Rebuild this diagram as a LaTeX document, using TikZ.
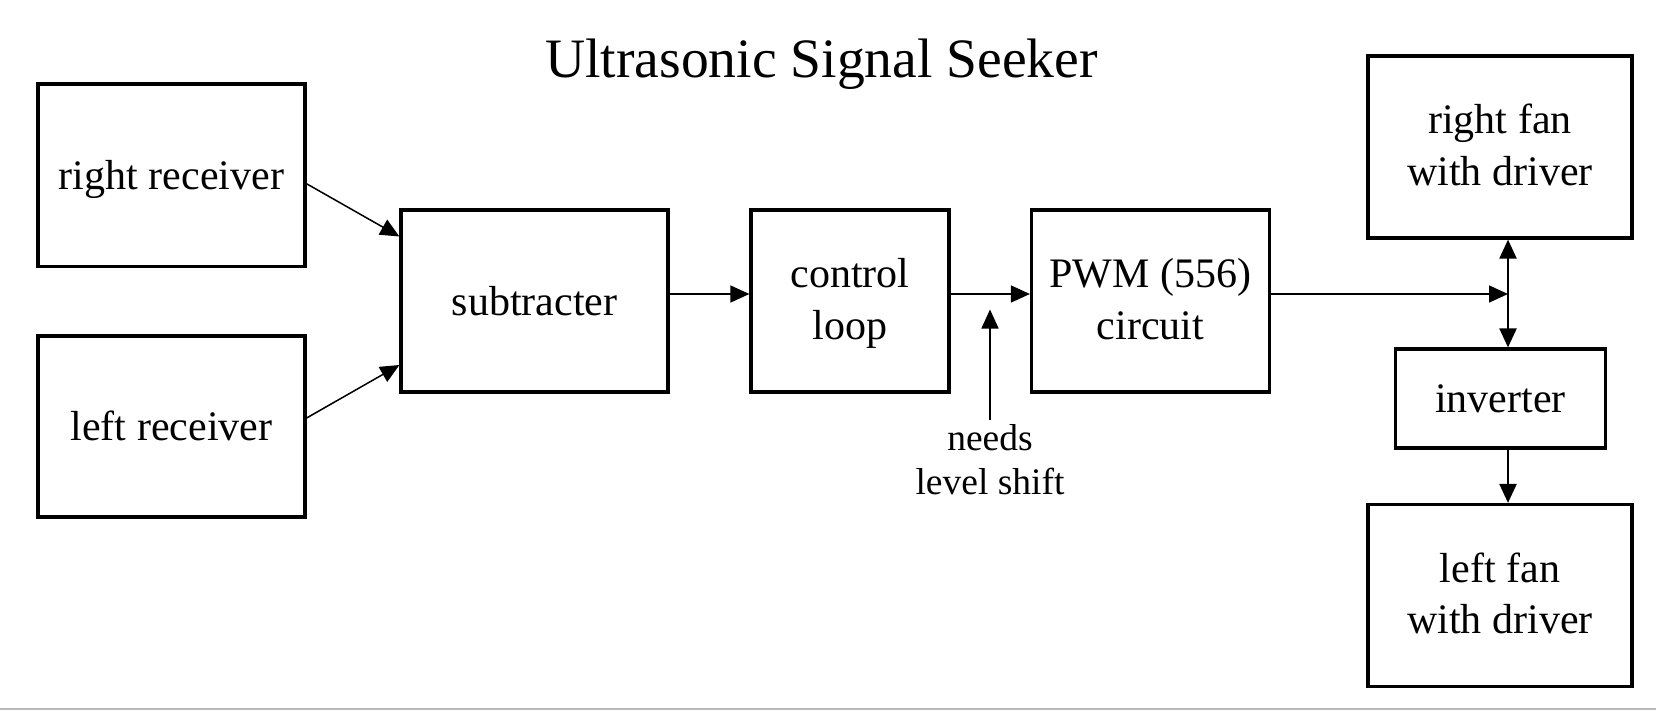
\documentclass[tikz,border=0pt]{standalone}
\usepackage{fontspec}
\setmainfont{Liberation Serif}
\usetikzlibrary{arrows.meta,calc}
\newcommand\lastln[1]{\raisebox{0pt}[\height][0pt]{#1}\rule[-4.5pt]{0pt}{4.5pt}}
\begin{document}
\begin{tikzpicture}[x=1pt,y=-1pt,
  box/.style={draw, line width=3.2pt, inner sep=0pt, font=\fontsize{42}{51.6}\selectfont, align=center},
  oneline/.style={text height=28pt, text depth=0pt},
  conn/.style={line width=1.5pt, -{Triangle[length=19pt,width=17pt]}},
  thickconn/.style={conn, line width=2.2pt}
]
\useasboundingbox (0,0) rectangle (1656,710);
\fill[white] (0,0) rectangle (1656,710);
\fill[gray!55] (0,708) rectangle (1656,710);

\node (title) [anchor=base, inner sep=0pt, font=\fontsize{55.6}{66}\selectfont] at (821.5,77) {Ultrasonic Signal Seeker};

\node[box, oneline, minimum width=267pt, minimum height=182.5pt] (rr) at (171.5,175.25) {right receiver};
\node[box, oneline, minimum width=267pt, minimum height=181pt] (lr) at (171.5,426.5) {left receiver};
\node[box, oneline, minimum width=267pt, minimum height=182pt] (sub) at (534.5,301) {subtracter};
\node[box, minimum width=198pt, minimum height=182pt] (ctl) at (850,301) {control\\\lastln{loop}};
\node[box, minimum width=238pt, minimum height=182pt] (pwm) at (1150.5,301) {PWM (556)\\\lastln{circuit}};
\node[box, minimum width=264pt, minimum height=182pt] (rf) at (1500,147) {right fan\\\lastln{with driver}};
\node[box, oneline, minimum width=210pt, minimum height=99pt] (inv) at (1500.5,398.5) {inverter};
\node[box, minimum width=264pt, minimum height=182pt] (lf) at (1500,595.5) {left fan\\\lastln{with driver}};

\coordinate (j) at (1508,294);
\coordinate (ls) at (990,420);
\coordinate (lstip) at (990,309.5);

\draw[conn] ($(rr.east)+(0,8.5)$) -- ($(sub.west)+(0,-64.5)$);
\draw[conn] ($(lr.east)+(0,-8.5)$) -- ($(sub.west)+(0,64)$);
\draw[conn] ($(sub.east)+(0,-7)$) -- ($(ctl.west)+(0,-7)$);
\draw[conn] ($(ctl.east)+(0,-7)$) -- ($(pwm.west)+(0,-7)$);
\draw[conn] (ls) -- (lstip);
\node (lstext) [anchor=north, inner sep=0pt, font=\fontsize{37.5}{44}\selectfont, align=center] at (990,424.4) {needs\\level shift};
\draw[conn] ($(pwm.east)+(0,-7)$) -- (j);
\draw[thickconn] (j) -- (j |- rf.south);
\draw[thickconn] (j) -- (j |- inv.north);
\draw[thickconn] (inv.south -| j) -- (j |- lf.north);
\end{tikzpicture}
\end{document}
